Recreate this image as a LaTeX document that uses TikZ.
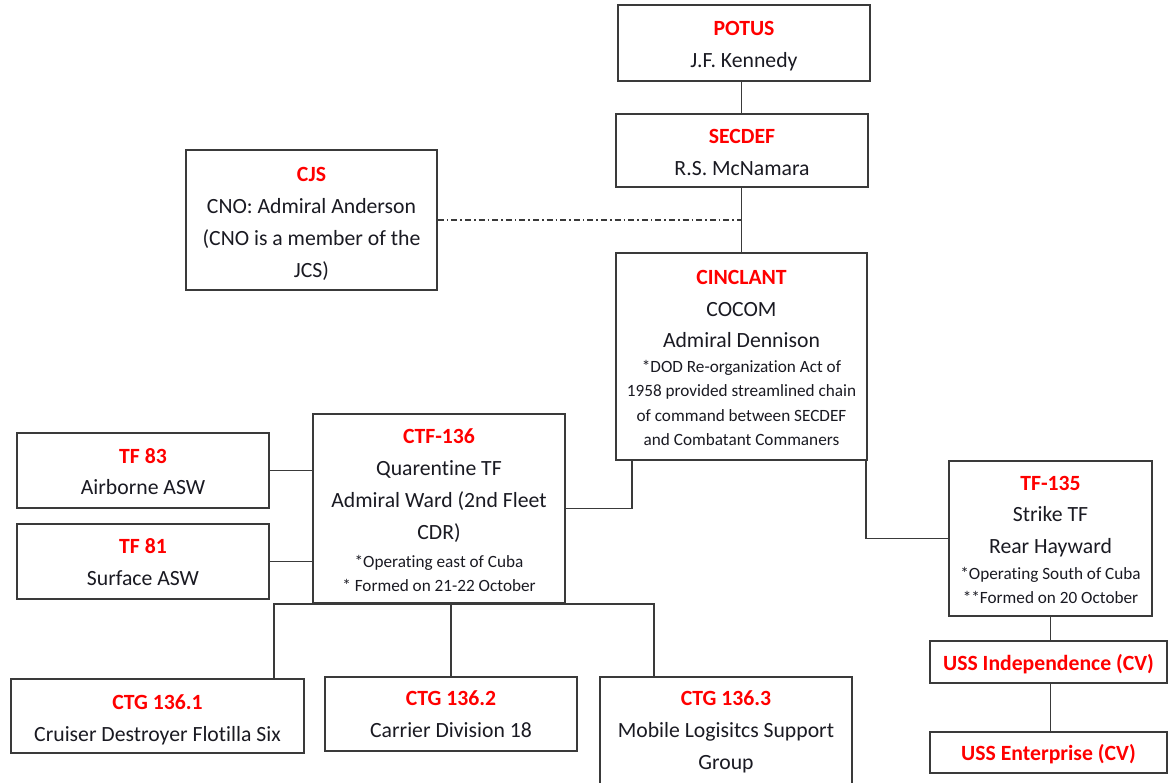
\documentclass[tikz,border=0pt]{standalone}
\usepackage{fontspec}
\setmainfont{Carlito}[Ligatures={NoCommon}]
\usetikzlibrary{calc}
\definecolor{tred}{HTML}{FF0000}
\definecolor{ink}{HTML}{1A1A22}
\definecolor{edge}{HTML}{3A3A3A}
\newcommand{\ttl}[2][0]{{\bfseries\color{tred}\rule{0pt}{\dimexpr\fontcharht\font`H+#1pt\relax}#2}}
\newcommand{\sml}[1]{{\fontsize{17.2}{24.7}\selectfont #1}}
\begin{document}
\begin{tikzpicture}[x=1pt,y=-1pt,
  box/.style={draw=edge, line width=1.6pt, fill=white, text=ink, align=center,
    inner sep=0pt, font=\fontsize{21.7}{31.8}\selectfont},
  link/.style={draw=edge, line width=1.6pt},
  cjslink/.style={draw=edge, line width=1.3pt, dash pattern=on 6pt off 3pt on 1.6pt off 3pt}]
\useasboundingbox (0,0) rectangle (1168,783);
\clip (0,0) rectangle (1168,783);
\fill[white] (0,0) rectangle (1168,783);

\node[box, minimum width=252pt, minimum height=76pt] (potus) at (744,43) {\ttl[6]{POTUS}\\J.F. Kennedy};
\node[box, minimum width=252pt, minimum height=73pt] (secdef) at (742,150.5) {\ttl[4]{SECDEF}\\R.S. McNamara};
\node[box, minimum width=251pt, minimum height=140pt] (cjs) at (311.5,220) {\ttl[8]{CJS}\\CNO: Admiral Anderson\\(CNO is a member of the\\JCS)};
\node[box, minimum width=251pt, minimum height=207pt] (cinclant) at (741.5,356.5) {\ttl[3]{CINCLANT}\\COCOM\\Admiral Dennison\\[-7.5pt]\sml{*DOD Re-organization Act of}\\[-7.3pt]\sml{1958 provided streamlined chain}\\[-7.3pt]\sml{of command between SECDEF}\\[-7.3pt]\sml{and Combatant Commaners}};
\node[box, minimum width=252pt, minimum height=189pt] (ctf) at (439,508.5) {\ttl[4.5]{CTF-136}\\Quarentine TF\\Admiral Ward (2nd Fleet\\CDR)\\[-4pt]\sml{*Operating east of Cuba}\\[-7.3pt]\sml{* Formed on 21-22 October}};
\node[box, minimum width=252pt, minimum height=75pt] (tf83) at (143,470.5) {\ttl[3]{TF 83}\\Airborne ASW};
\node[box, minimum width=252pt, minimum height=75pt] (tf81) at (143,561.5) {\ttl[2]{TF 81}\\Surface ASW};
\node[box, minimum width=203pt, minimum height=155pt] (tf135) at (1050.5,538.5) {\ttl[3]{TF-135}\\Strike TF\\Rear Hayward\\[-6pt]\sml{*Operating South of Cuba}\\[-7.3pt]\sml{**Formed on 20 October}};
\node[box, minimum width=237pt, minimum height=42pt] (indep) at (1048.5,662) {\ttl[6]{USS Independence (CV)}};
\node[box, minimum width=237pt, minimum height=41pt] (enter) at (1048.5,752.5) {\ttl[6]{USS Enterprise (CV)}};
\node[box, minimum width=293pt, minimum height=74pt] (ctg1) at (157.5,716) {\ttl[9]{CTG 136.1}\\Cruiser Destroyer Flotilla Six};
\node[box, minimum width=252pt, minimum height=74pt] (ctg2) at (451,714) {\ttl[1]{CTG 136.2}\\Carrier Division 18};
\node[box, minimum width=252pt, minimum height=109pt] (ctg3) at (726,731.5) {\ttl[1]{CTG 136.3}\\Mobile Logisitcs Support\\Group};

\draw[link] (cinclant.north |- potus.south) -- (cinclant.north |- secdef.north);
\draw[link] (cinclant.north |- secdef.south) -- (cinclant.north);
\draw[cjslink] (cjs.east) -- (cjs.east -| cinclant.north);
\coordinate (cL) at ($(cinclant.south west)+(17,0)$);
\draw[link] (cL) |- (ctf.east);
\coordinate (cR) at ($(cinclant.south east)+(-2,0)$);
\draw[link] (cR) |- (tf135.west);
\draw[link] (tf83.east) -- (tf83.east -| ctf.west);
\draw[link] (tf81.east) -- (tf81.east -| ctf.west);
\coordinate (g1) at ($(ctg1.north east)+(-31,0)$);
\coordinate (g3) at ($(ctg3.north west)+(55,0)$);
\draw[link] (g1) |- (g3 |- ctf.south) -- (g3);
\draw[link] (ctg2.north) -- (ctg2.north |- ctf.south);
\draw[link] (tf135.south) -- (tf135.south |- indep.north);
\draw[link] (tf135.south |- indep.south) -- (tf135.south |- enter.north);
\end{tikzpicture}
\end{document}
